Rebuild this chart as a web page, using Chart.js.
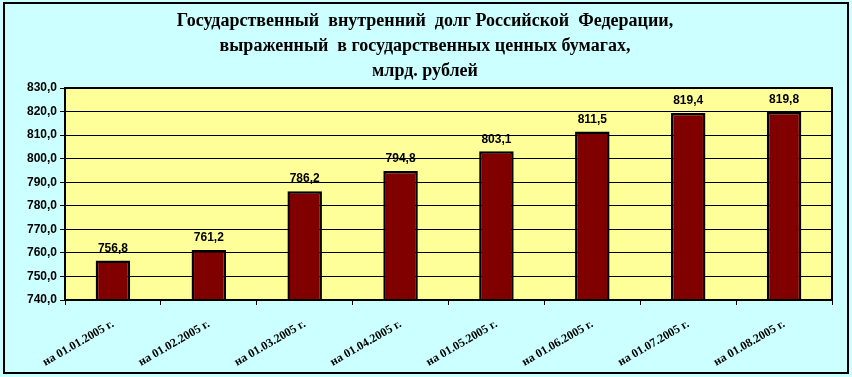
<!DOCTYPE html>
<html>
<head>
<meta charset="utf-8">
<script src="https://cdn.jsdelivr.net/npm/chart.js@4"></script>
<style>
  html, body { margin: 0; padding: 0; background: #ccffff; }
  canvas { display: block; }
</style>
</head>
<body>
<canvas id="debtChart" width="852" height="377"></canvas>
<script>
// chart data
const titleLines = [
  "Государственный  внутренний  долг Российской  Федерации,",
  "выраженный  в государственных ценных бумагах,",
  "млрд. рублей"
];
const dateLabels = [
  "на 01.01.2005 г.", "на 01.02.2005 г.", "на 01.03.2005 г.", "на 01.04.2005 г.",
  "на 01.05.2005 г.", "на 01.06.2005 г.", "на 01.07.2005 г.", "на 01.08.2005 г."
];
const debtValues = [756.8, 761.2, 786.2, 794.8, 803.1, 811.5, 819.4, 819.8];
const yMin = 740;
const yMax = 830;
const yStep = 10;

const fmt = (v) => v.toFixed(1).replace(".", ",");

// background, outer frame, plot area fill and title
const backgroundPlugin = {
  id: "background",
  beforeDraw(chart) {
    const { ctx, chartArea } = chart;
    ctx.save();
    ctx.fillStyle = "#ccffff";
    ctx.fillRect(0, 0, chart.width, chart.height);
    ctx.strokeStyle = "#000";
    ctx.lineWidth = 2;
    ctx.strokeRect(4, 3, 844, 370);
    ctx.fillStyle = "#ffff99";
    ctx.fillRect(chartArea.left, chartArea.top, chartArea.right - chartArea.left, chartArea.bottom - chartArea.top);

    ctx.fillStyle = "#000";
    ctx.font = "bold 18px 'Liberation Serif'";
    ctx.textAlign = "center";
    ctx.textBaseline = "middle";
    titleLines.forEach((line, i) => {
      ctx.fillText(line, 425, 21 + i * 25);
    });
    ctx.restore();
  },
  afterDraw(chart) {
    const { ctx, chartArea } = chart;
    ctx.save();
    ctx.strokeStyle = "#000";
    ctx.lineWidth = 2;
    ctx.strokeRect(chartArea.left, chartArea.top, chartArea.right - chartArea.left, chartArea.bottom - chartArea.top);
    ctx.restore();
  }
};

// value labels above bars
const valueLabels = {
  id: "valueLabels",
  afterDatasetsDraw(chart) {
    const { ctx } = chart;
    const meta = chart.getDatasetMeta(0);
    ctx.save();
    ctx.fillStyle = "#000";
    ctx.font = "bold 12px 'Liberation Sans'";
    ctx.textAlign = "center";
    ctx.textBaseline = "bottom";
    meta.data.forEach((bar, i) => {
      ctx.fillText(fmt(debtValues[i]), bar.x, bar.y - 6);
    });
    ctx.restore();
  }
};

new Chart(document.getElementById("debtChart"), {
  type: "bar",
  data: {
    labels: dateLabels,
    datasets: [{
      data: debtValues,
      backgroundColor: "#800000",
      borderColor: "#000",
      borderWidth: 2.5,
      categoryPercentage: 1,
      barPercentage: 0.36
    }]
  },
  options: {
    responsive: false,
    devicePixelRatio: 1,
    animation: false,
    layout: { padding: { top: 88, right: 20, left: 0, bottom: 5 } },
    plugins: {
      legend: { display: false },
      tooltip: { enabled: false }
    },
    scales: {
      x: {
        grid: { drawOnChartArea: false, drawTicks: true, tickLength: 5, color: "#000", lineWidth: 1 },
        border: { display: true, color: "#000", width: 2 },
        ticks: {
          color: "#000",
          font: { family: "'Liberation Serif'", size: 12, weight: "bold" },
          maxRotation: 30,
          minRotation: 30,
          padding: 12
        },
        afterFit(scale) { scale.height = 72; }
      },
      y: {
        min: yMin,
        max: yMax,
        grid: { color: "#000", lineWidth: 1, tickLength: 5 },
        border: { display: true, color: "#000", width: 2 },
        ticks: {
          stepSize: yStep,
          color: "#000",
          padding: 3,
          font: { family: "'Liberation Sans'", size: 12, weight: "bold" },
          callback: (v) => fmt(v)
        },
        afterFit(scale) { scale.width = 65; }
      }
    }
  },
  plugins: [backgroundPlugin, valueLabels]
});
</script>
</body>
</html>
